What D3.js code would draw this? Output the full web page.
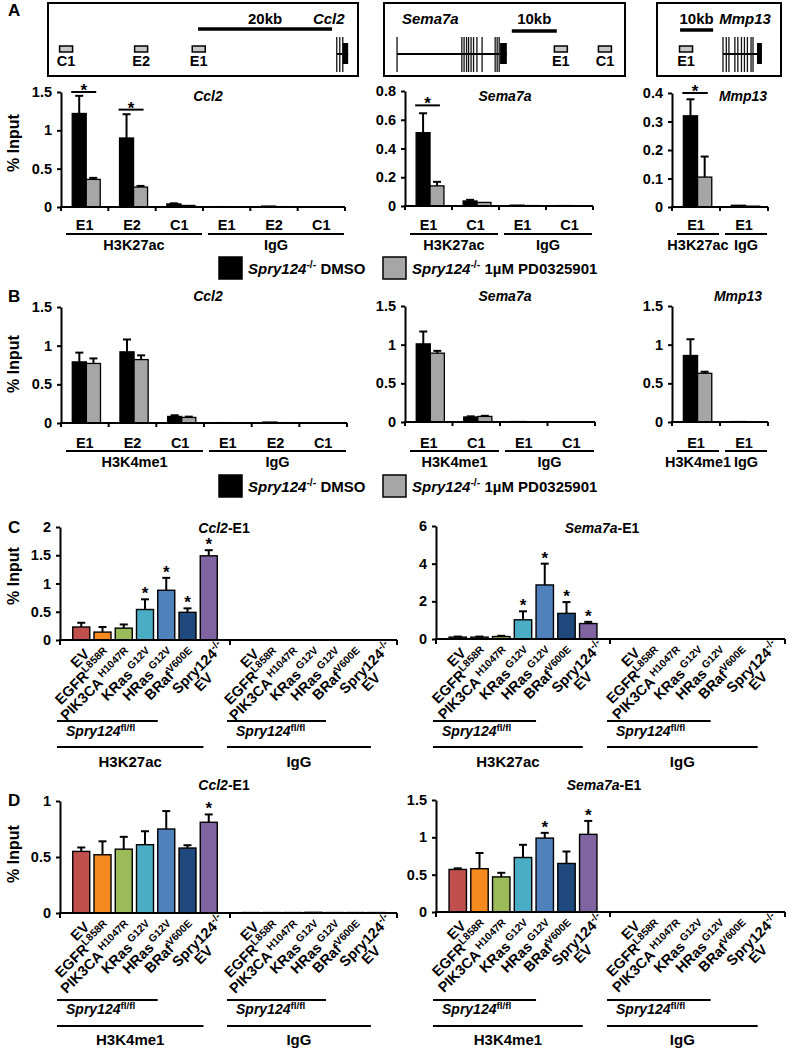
<!DOCTYPE html>
<html><head><meta charset="utf-8">
<script src="https://cdn.jsdelivr.net/npm/d3@7/dist/d3.min.js"></script>
<style>
html,body{margin:0;padding:0;background:#fff}
text{font-family:"Liberation Sans",Arial,Helvetica,sans-serif;font-weight:bold;fill:#000}
</style></head><body>
<svg id="fig" width="788" height="1048" xmlns="http://www.w3.org/2000/svg"></svg>
<script>
// ================= DATA =================
const ccl2Regions = ["E1", "E2", "C1"];
const sema7aRegions = ["E1", "C1"];
const mmp13Regions = ["E1"];
const antibodiesA = ["H3K27ac", "IgG"];
const antibodiesB = ["H3K4me1", "IgG"];

// Panel A (order: H3K27ac regions, then IgG regions)
const aCcl2Dmso   = [1.22, 0.90, 0.040, 0.005, 0.012, 0.004];
const aCcl2DmsoSd = [0.23, 0.31, 0.008, 0.001, 0.002, 0.001];
const aCcl2Pd     = [0.36, 0.26, 0.020, 0.003, 0.005, 0.003];
const aCcl2PdSd   = [0.020, 0.015, 0.004, 0.001, 0.001, 0.001];
const aSemaDmso   = [0.51, 0.035, 0.006, 0.003];
const aSemaDmsoSd = [0.135, 0.008, 0.001, 0.001];
const aSemaPd     = [0.14, 0.025, 0.003, 0.002];
const aSemaPdSd   = [0.028, 0.004, 0.001, 0.001];
const aMmpDmso    = [0.32, 0.006];
const aMmpDmsoSd  = [0.058, 0.001];
const aMmpPd      = [0.105, 0.003];
const aMmpPdSd    = [0.072, 0.001];
const aCcl2Sig = [[0, 1.50], [1, 1.27]];
const aSemaSig = [[0, 0.70]];
const aMmpSig  = [[0, 0.40]];

// Panel B
const bCcl2Dmso   = [0.79, 0.92, 0.085, 0.005, 0.012, 0.004];
const bCcl2DmsoSd = [0.12, 0.16, 0.015, 0.001, 0.002, 0.001];
const bCcl2Pd     = [0.77, 0.82, 0.072, 0.003, 0.005, 0.003];
const bCcl2PdSd   = [0.065, 0.055, 0.010, 0.001, 0.001, 0.001];
const bSemaDmso   = [1.01, 0.065, 0.006, 0.003];
const bSemaDmsoSd = [0.16, 0.008, 0.001, 0.001];
const bSemaPd     = [0.89, 0.072, 0.003, 0.002];
const bSemaPdSd   = [0.03, 0.008, 0.001, 0.001];
const bMmpDmso    = [0.86, 0.006];
const bMmpDmsoSd  = [0.21, 0.001];
const bMmpPd      = [0.63, 0.003];
const bMmpPdSd    = [0.02, 0.001];

const legendNames = ["DMSO", "1\u00B5M PD0325901"];

// Panels C / D
const constructNames = ["EV", "EGFR", "PIK3CA", "KRas", "HRas", "BRaf", "Spry124"];
const constructSups  = ["", "L858R", "H1047R", "G12V", "G12V", "V600E", "-/-"];
const constructLine2 = ["", "", "", "", "", "", "EV"];
const constructColors = ["#c0504d", "#f58a1f", "#9bbb59", "#4bacc6", "#4f81bd", "#1f497d", "#8064a2"];

const cCcl2Ac    = [0.23, 0.14, 0.21, 0.54, 0.88, 0.49, 1.49];
const cCcl2AcSd  = [0.075, 0.09, 0.065, 0.18, 0.22, 0.07, 0.10];
const cCcl2IgG   = [0.005, 0.004, 0.004, 0.005, 0.004, 0.004, 0.004];
const cCcl2IgGSd = [0, 0, 0, 0, 0, 0, 0];
const cCcl2Star  = [0, 0, 0, 1, 1, 1, 1];
const cSemaAc    = [0.10, 0.10, 0.13, 1.02, 2.87, 1.36, 0.82];
const cSemaAcSd  = [0.03, 0.03, 0.04, 0.45, 1.13, 0.60, 0.09];
const cSemaIgG   = [0.010, 0.010, 0.010, 0.010, 0.010, 0.010, 0.010];
const cSemaIgGSd = [0, 0, 0, 0, 0, 0, 0];
const cSemaStar  = [0, 0, 0, 1, 1, 1, 1];

const dCcl2Me1   = [0.55, 0.52, 0.57, 0.61, 0.75, 0.58, 0.81];
const dCcl2Me1Sd = [0.035, 0.12, 0.11, 0.12, 0.16, 0.025, 0.07];
const dCcl2IgG   = [0.004, 0.004, 0.004, 0.006, 0.004, 0.004, 0.004];
const dCcl2IgGSd = [0, 0, 0, 0, 0, 0, 0];
const dCcl2Star  = [0, 0, 0, 0, 0, 0, 1];
const dSemaMe1   = [0.57, 0.58, 0.47, 0.73, 0.99, 0.65, 1.04];
const dSemaMe1Sd = [0.015, 0.21, 0.055, 0.17, 0.07, 0.16, 0.18];
const dSemaIgG   = [0.004, 0.004, 0.004, 0.004, 0.004, 0.004, 0.004];
const dSemaIgGSd = [0, 0, 0, 0, 0, 0, 0];
const dSemaStar  = [0, 0, 0, 0, 1, 0, 1];

// Gene maps (kb from left edge of each box)
const ccl2AmpNames = ["C1", "E2", "E1"];
const ccl2AmpKb    = [2.7, 13.9, 22.5];
const ccl2ExonKb   = [43.1, 43.55, 44.0];
const ccl2UtrKb    = [44.0, 44.8];
const sema7aAmpNames = ["E1", "C1"];
const sema7aAmpKb    = [39.3, 49.1];
const sema7aExonKb   = [2.9, 17.3, 17.8, 18.35, 18.8, 19.35, 19.9, 20.65, 21.8, 24.7, 25.15, 25.6];
const sema7aUtrKb    = [25.8, 27.3];
const mmp13AmpNames = ["E1"];
const mmp13AmpKb    = [8.8];
const mmp13ExonKb   = [20.0, 21.0, 21.8, 23.6, 24.5, 25.6, 26.5, 27.4, 28.5, 29.1];
const mmp13UtrKb    = [30.3, 31.8];

// ================= DRAWING =================
const svg = d3.select("#fig");

function rich(parent, x, y, parts, size, anchor, supScale) {
  const t = parent.append("text").attr("x", x).attr("y", y)
    .attr("font-size", size).attr("text-anchor", anchor || "start");
  let up = false;
  const sc = supScale || 0.7;
  parts.forEach(p => {
    if (!p.t) return;
    const ts = t.append("tspan").text(p.t);
    if (p.i) ts.attr("font-style", "italic");
    if (p.sup) {
      ts.attr("font-size", (size * sc).toFixed(1));
      if (p.gap) ts.attr("dx", p.gap);
      if (!up) { ts.attr("dy", -size * 0.38); up = true; }
    } else if (up) { ts.attr("dy", size * 0.38); up = false; }
  });
  return t;
}
function hline(g, x1, x2, y, w) {
  g.append("line").attr("x1", x1).attr("x2", x2).attr("y1", y).attr("y2", y)
    .attr("stroke", "#000").attr("stroke-width", w || 2);
}
function vline(g, x, y1, y2, w, c) {
  g.append("line").attr("x1", x).attr("x2", x).attr("y1", y1).attr("y2", y2)
    .attr("stroke", c || "#000").attr("stroke-width", w || 2);
}
function yAxis(g, y, x0, ticks) {
  const ax = d3.axisLeft(y).tickValues(ticks).tickSize(4).tickSizeOuter(0)
    .tickPadding(5).tickFormat(d => String(d));
  const ag = g.append("g").attr("transform", `translate(${x0},0)`).call(ax);
  ag.attr("font-size", 14.5).attr("font-family", null);
  ag.select(".domain").attr("stroke-width", 2);
  ag.selectAll(".tick line").attr("stroke-width", 2);
}
function errBar(g, cx, yb, yt) {
  vline(g, cx, yb, yt, 2);
  hline(g, cx - 4, cx + 4, yt, 2);
}
function panelLetter(t, x, y) {
  svg.append("text").attr("x", x).attr("y", y).attr("font-size", 17).text(t);
}
function yLabel(cy) {
  svg.append("text").attr("transform", `translate(19,${cy}) rotate(-90)`)
    .attr("text-anchor", "middle").attr("font-size", 16).text("% Input");
}

// ---- gene boxes ----
function geneBox(o) {
  const g = svg.append("g");
  const k = d3.scaleLinear().domain([0, o.spanKb]).range([o.x0, o.x1]);
  g.append("rect").attr("x", o.x0).attr("y", 3).attr("width", o.x1 - o.x0).attr("height", 73)
    .attr("fill", "none").attr("stroke", "#000").attr("stroke-width", 2);
  hline(g, k(o.barKb[0]), k(o.barKb[1]), o.barY, 3.5);
  g.append("text").attr("x", (k(o.barKb[0]) + k(o.barKb[1])) / 2).attr("y", 24)
    .attr("text-anchor", "middle").attr("font-size", 15).text(o.barLabel);
  g.append("text").attr("x", k(o.nameKb)).attr("y", 24).attr("text-anchor", o.nameAnchor)
    .attr("font-size", 15).attr("font-style", "italic").text(o.name);
  o.ampKb.forEach((a, i) => {
    g.append("rect").attr("x", k(a) - 6.5).attr("y", 46).attr("width", 13).attr("height", 6)
      .attr("fill", "#c8c8c8").attr("stroke", "#000").attr("stroke-width", 1.5);
    g.append("text").attr("x", k(a)).attr("y", 66).attr("text-anchor", "middle")
      .attr("font-size", 14.5).text(o.ampNames[i]);
  });
  hline(g, k(o.exonKb[0]), k(o.utrKb[1]), 54, 2);
  o.exonKb.forEach(e => vline(g, k(e), 37, 72, 1.3, "#111"));
  g.append("rect").attr("x", k(o.utrKb[0])).attr("y", 43).attr("width", k(o.utrKb[1]) - k(o.utrKb[0]))
    .attr("height", 21).attr("fill", "#000");
}
geneBox({x0: 48, x1: 358, spanKb: 46.27, barKb: [22.4, 42.4], barY: 29, barLabel: "20kb",
  name: "Ccl2", nameKb: 41.9, nameAnchor: "middle", ampKb: ccl2AmpKb, ampNames: ccl2AmpNames,
  exonKb: ccl2ExonKb, utrKb: ccl2UtrKb});
geneBox({x0: 384, x1: 625, spanKb: 53.56, barKb: [28.4, 38.4], barY: 31, barLabel: "10kb",
  name: "Sema7a", nameKb: 4.0, nameAnchor: "start", ampKb: sema7aAmpKb, ampNames: sema7aAmpNames,
  exonKb: sema7aExonKb, utrKb: sema7aUtrKb});
geneBox({x0: 657, x1: 781, spanKb: 37.58, barKb: [7.0, 17.0], barY: 30, barLabel: "10kb",
  name: "Mmp13", nameKb: 26.7, nameAnchor: "middle", ampKb: mmp13AmpKb, ampNames: mmp13AmpNames,
  exonKb: mmp13ExonKb, utrKb: mmp13UtrKb});

// ---- grouped (DMSO vs PD) charts ----
function groupedChart(o) {
  const g = svg.append("g");
  const cats = [];
  o.groups.forEach(gr => o.regions.forEach(r => cats.push(gr + "|" + r)));
  const x = d3.scaleBand().domain(cats).range([o.x0, o.x1]);
  const xs = d3.scaleBand().domain(["dmso", "pd"]).range([0, x.bandwidth()])
    .paddingOuter(0.69).align(0.58);
  const y = d3.scaleLinear().domain([0, o.max]).range([o.y0, o.y1]);
  const series = [
    {key: "dmso", vals: o.dmso, sd: o.dmsoSd, fill: "#000"},
    {key: "pd", vals: o.pd, sd: o.pdSd, fill: "#a6a6a6"}];
  series.forEach(s => {
    const bx = i => x(cats[i]) + xs(s.key);
    g.selectAll(null).data(s.vals).enter().append("rect")
      .attr("x", (d, i) => bx(i)).attr("y", d => y(d))
      .attr("width", xs.bandwidth()).attr("height", d => o.y0 - y(d))
      .attr("fill", s.fill).attr("stroke", "#000").attr("stroke-width", 1.3);
    s.vals.forEach((v, i) => {
      if (s.sd[i] > 0.004) errBar(g, bx(i) + xs.bandwidth() / 2, y(v), y(v + s.sd[i]));
    });
  });
  yAxis(g, y, o.x0, o.ticks);
  hline(g, o.x0 - 1, o.x1, o.y0, 2);
  cats.map(c => x(c)).concat([o.x1]).forEach(b => vline(g, b, o.y0, o.y0 + 4, 2));
  cats.forEach(c => {
    g.append("text").attr("x", x(c) + x.bandwidth() / 2).attr("y", o.catY)
      .attr("text-anchor", "middle").attr("font-size", 14.5).text(c.split("|")[1]);
  });
  o.groups.forEach((gr, gi) => {
    const a = x(gr + "|" + o.regions[0]);
    const b = x(gr + "|" + o.regions[o.regions.length - 1]) + x.bandwidth();
    hline(g, a + 5, b - 1, o.lineY, 2);
    g.append("text").attr("x", (a + b) / 2 + 2).attr("y", o.grpY).attr("text-anchor", "middle")
      .attr("font-size", 14.5).text(gr);
  });
  rich(g, o.titleX, o.titleY, [{t: o.title, i: true}], 14, "middle");
  (o.sig || []).forEach(([i, v]) => {
    const l = x(cats[i]) + xs("dmso") - 1;
    const r = x(cats[i]) + xs("pd") + xs.bandwidth() - 4;
    hline(g, l, r, y(v), 2);
    g.append("text").attr("x", (l + r) / 2).attr("y", y(v) + 4).attr("text-anchor", "middle")
      .attr("font-size", 17).text("*");
  });
}

groupedChart({x0: 61, x1: 345, y0: 207, y1: 92, max: 1.5, ticks: [0, 0.5, 1, 1.5],
  regions: ccl2Regions, groups: antibodiesA, dmso: aCcl2Dmso, dmsoSd: aCcl2DmsoSd, pd: aCcl2Pd, pdSd: aCcl2PdSd,
  title: "Ccl2", titleX: 208, titleY: 101, catY: 230, lineY: 234, grpY: 250, sig: aCcl2Sig});
groupedChart({x0: 405, x1: 593, y0: 206, y1: 91, max: 0.8, ticks: [0, 0.2, 0.4, 0.6, 0.8],
  regions: sema7aRegions, groups: antibodiesA, dmso: aSemaDmso, dmsoSd: aSemaDmsoSd, pd: aSemaPd, pdSd: aSemaPdSd,
  title: "Sema7a", titleX: 505, titleY: 101, catY: 230, lineY: 234, grpY: 250, sig: aSemaSig});
groupedChart({x0: 672, x1: 768, y0: 207, y1: 93, max: 0.4, ticks: [0, 0.1, 0.2, 0.3, 0.4],
  regions: mmp13Regions, groups: antibodiesA, dmso: aMmpDmso, dmsoSd: aMmpDmsoSd, pd: aMmpPd, pdSd: aMmpPdSd,
  title: "Mmp13", titleX: 743, titleY: 101, catY: 230, lineY: 234, grpY: 250, sig: aMmpSig});

groupedChart({x0: 61, x1: 347, y0: 423, y1: 307, max: 1.5, ticks: [0, 0.5, 1, 1.5],
  regions: ccl2Regions, groups: antibodiesB, dmso: bCcl2Dmso, dmsoSd: bCcl2DmsoSd, pd: bCcl2Pd, pdSd: bCcl2PdSd,
  title: "Ccl2", titleX: 208, titleY: 301, catY: 448, lineY: 451, grpY: 467});
groupedChart({x0: 405, x1: 595, y0: 422, y1: 306, max: 1.5, ticks: [0, 0.5, 1, 1.5],
  regions: sema7aRegions, groups: antibodiesB, dmso: bSemaDmso, dmsoSd: bSemaDmsoSd, pd: bSemaPd, pdSd: bSemaPdSd,
  title: "Sema7a", titleX: 505, titleY: 301, catY: 448, lineY: 451, grpY: 467});
groupedChart({x0: 672, x1: 768, y0: 422, y1: 306, max: 1.5, ticks: [0, 0.5, 1, 1.5],
  regions: mmp13Regions, groups: antibodiesB, dmso: bMmpDmso, dmsoSd: bMmpDmsoSd, pd: bMmpPd, pdSd: bMmpPdSd,
  title: "Mmp13", titleX: 738, titleY: 301, catY: 448, lineY: 451, grpY: 467});

function legend(top) {
  const g = svg.append("g");
  const fills = ["#000", "#a6a6a6"];
  const xs = [219, 383];
  legendNames.forEach((n, i) => {
    g.append("rect").attr("x", xs[i]).attr("y", top).attr("width", 23).attr("height", 22)
      .attr("fill", fills[i]).attr("stroke", "#000").attr("stroke-width", 1.5);
    rich(g, xs[i] + 29, top + 17, [{t: "Spry124", i: true}, {t: "-/-", sup: true}, {t: " " + n}], 15, "start");
  });
}
legend(257);
legend(475);

// ---- construct charts (C, D) ----
function constructChart(o) {
  const g = svg.append("g");
  const xL = d3.scalePoint().domain(constructNames).range([o.x0, o.mid]).padding(1);
  const xR = d3.scalePoint().domain(constructNames).range([o.mid, o.x1]).padding(1);
  const y = d3.scaleLinear().domain([0, o.max]).range([o.y0, o.y1]);
  const bw = xL.step() * 0.8;
  [[xL, o.vals, o.sd], [xR, o.igg, o.iggSd]].forEach(([xs, vals, sd], gi) => {
    g.selectAll(null).data(vals).enter().append("rect")
      .attr("x", (d, i) => xs(constructNames[i]) - bw / 2).attr("y", d => y(d))
      .attr("width", bw).attr("height", d => o.y0 - y(d))
      .attr("fill", (d, i) => constructColors[i]).attr("stroke", "#000").attr("stroke-width", 1.4);
    vals.forEach((v, i) => {
      const cx = xs(constructNames[i]);
      if (sd[i] > 0) errBar(g, cx, y(v), y(v + sd[i]));
      if (gi === 0 && o.star[i]) {
        g.append("text").attr("x", cx).attr("y", y(v + sd[i])).attr("text-anchor", "middle")
          .attr("font-size", 17).text("*");
      }
    });
  });
  yAxis(g, y, o.x0, o.ticks);
  hline(g, o.x0 - 1, o.x1, o.y0, 2);
  [o.x0, o.mid, o.x1].forEach(b => vline(g, b, o.y0, o.y0 + 5, 2));
  // rotated labels
  const LS = 14.5;
  [xL, xR].forEach(xs => {
    constructNames.forEach((c, i) => {
      const cx = xs(c);
      const t = g.append("g").attr("transform", `translate(${cx + 9},${o.y0 + 15}) rotate(-45)`);
      const gap = (i >= 2 && i <= 4) ? 2.5 : 0;
      if (constructLine2[i]) {
        const t1 = rich(t, 10, 0, [{t: c}, {t: constructSups[i], sup: true}], LS, "end", 0.72);
        const w = t1.node().getComputedTextLength();
        t.append("text").attr("x", 10 - w / 2 - 6).attr("y", 14).attr("text-anchor", "middle")
          .attr("font-size", LS).text(constructLine2[i]);
      } else {
        rich(t, 0, 0, [{t: c}, {t: constructSups[i], sup: true, gap: gap}], LS, "end", 0.72);
      }
    });
  });
  // grouping annotations
  [[o.x0, o.group], [o.mid, "IgG"]].forEach(([s, name], gi) => {
    const step = (gi === 0 ? xL : xR).step();
    hline(g, s - 3, s + 4.6 * step, o.shortY, 2);
    rich(g, s + 6, o.sprY, [{t: "Spry124", i: true}, {t: "fl/fl", sup: true}], 14, "start");
    const e = s + 6.75 * step;
    hline(g, s - 3, e, o.longY, 2);
    g.append("text").attr("x", (s - 3 + e) / 2).attr("y", o.grpY).attr("text-anchor", "middle")
      .attr("font-size", 15).text(name);
  });
  rich(g, o.titleX, o.titleY, [{t: o.title, i: true}, {t: "-E1"}], 14, "middle");
}

constructChart({x0: 60, mid: 230, x1: 397, y0: 640, y1: 527, max: 2, ticks: [0, 0.5, 1, 1.5, 2],
  vals: cCcl2Ac, sd: cCcl2AcSd, igg: cCcl2IgG, iggSd: cCcl2IgGSd, star: cCcl2Star, group: "H3K27ac",
  title: "Ccl2", titleX: 224, titleY: 533, shortY: 721, sprY: 736, longY: 747, grpY: 767});
constructChart({x0: 436, mid: 610, x1: 785, y0: 639, y1: 526, max: 6, ticks: [0, 2, 4, 6],
  vals: cSemaAc, sd: cSemaAcSd, igg: cSemaIgG, iggSd: cSemaIgGSd, star: cSemaStar, group: "H3K27ac",
  title: "Sema7a", titleX: 602, titleY: 533, shortY: 721, sprY: 736, longY: 747, grpY: 767});
constructChart({x0: 60, mid: 230, x1: 397, y0: 913, y1: 801, max: 1, ticks: [0, 0.5, 1],
  vals: dCcl2Me1, sd: dCcl2Me1Sd, igg: dCcl2IgG, iggSd: dCcl2IgGSd, star: dCcl2Star, group: "H3K4me1",
  title: "Ccl2", titleX: 224, titleY: 790, shortY: 1000, sprY: 1014, longY: 1026, grpY: 1045});
constructChart({x0: 436, mid: 610, x1: 785, y0: 912, y1: 800, max: 1.5, ticks: [0, 0.5, 1, 1.5],
  vals: dSemaMe1, sd: dSemaMe1Sd, igg: dSemaIgG, iggSd: dSemaIgGSd, star: dSemaStar, group: "H3K4me1",
  title: "Sema7a", titleX: 604, titleY: 790, shortY: 1000, sprY: 1014, longY: 1026, grpY: 1045});

panelLetter("A", 8, 16);
panelLetter("B", 8, 302);
panelLetter("C", 8, 533);
panelLetter("D", 8, 806);
yLabel(143);
yLabel(364);
yLabel(576);
yLabel(854);
</script>
</body></html>
